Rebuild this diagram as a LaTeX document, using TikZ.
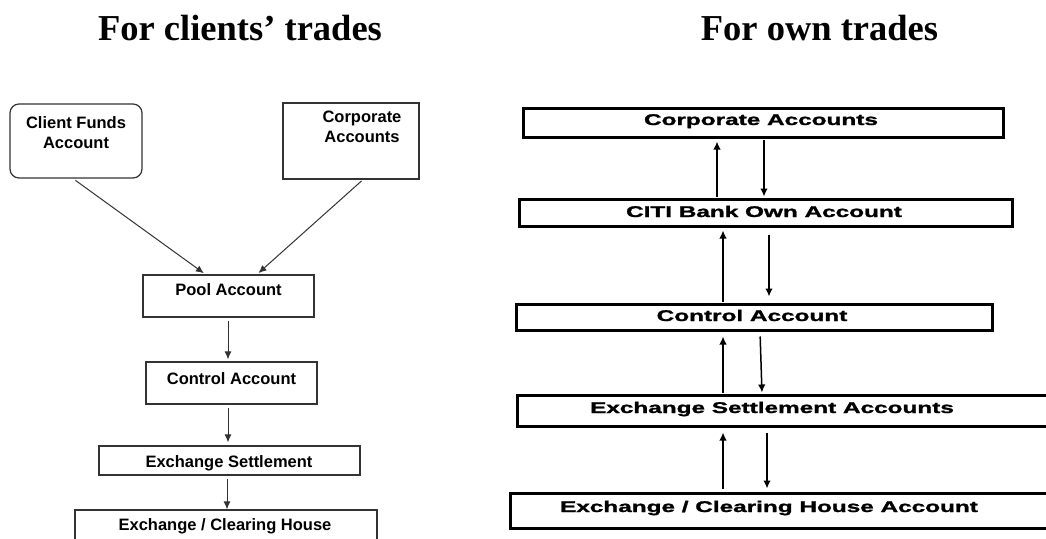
\documentclass[tikz,border=0pt]{standalone}
\usepackage{fontspec}
\usepackage{graphicx}
\setmainfont{Liberation Serif}
\newfontfamily\arialf{Liberation Sans}
\newfontfamily\arialh{Liberation Sans}[BoldFeatures={FakeBold=1.2}]
\usetikzlibrary{arrows.meta}
\definecolor{lgray}{HTML}{333333}
\newcommand{\wide}[1]{\scalebox{1.57}[1]{#1}}
\tikzset{
  x=1pt, y=-1pt,
  title/.style={font=\fontsize{36.5}{40}\selectfont\bfseries, inner sep=0pt, anchor=base},
  lbox/.style={draw=lgray, line width=1.2pt, inner sep=0pt},
  rbox/.style={draw=black, line width=3pt, inner sep=0pt},
  ltext/.style={font=\arialf\bfseries\fontsize{16.5}{20}\selectfont, inner sep=0pt, align=center},
  rtext/.style={font=\arialh\bfseries\fontsize{15.5}{18}\selectfont, inner sep=0pt, anchor=base},
  larr/.style={draw=lgray, line width=1pt, -{Latex[length=8pt,width=7pt]}},
  rarr/.style={draw=black, line width=1.5pt, -{Latex[length=8pt,width=7.5pt]}}
}
\begin{document}
\begin{tikzpicture}
\clip (0,0) rectangle (1046,538);
\fill[white] (0,0) rectangle (1046,538);

% titles
\node[title] (t1) at (240,40) {For clients’ trades};
\node[title] (t2) at (819.5,40) {For own trades};

% left boxes
\node[lbox, rounded corners=9pt, minimum width=132pt, minimum height=74pt] (cfa) at (76,141) {};
\node[lbox, minimum width=136pt, minimum height=76pt] (lcorp) at (351,141) {};
\node[lbox, minimum width=171pt, minimum height=42pt] (pool) at (228.5,296) {};
\node[lbox, minimum width=171pt, minimum height=42pt] (lctrl) at (231.5,383) {};
\node[lbox, minimum width=261pt, minimum height=29pt] (lesa) at (229.5,460.5) {};
\node[lbox, minimum width=302pt, minimum height=38pt] (lech) at (226,529) {};

% left texts
\node[ltext] (cfat) at (76,133) {Client Funds\\Account};
\node[ltext] (lcorpt) at (362,126.5) {Corporate\\Accounts};
\node[ltext, anchor=base] (poolt) at (228.5,295) {Pool Account};
\node[ltext, anchor=base] (lctrlt) at (231.5,384) {Control Account};
\node[ltext, anchor=base] (lesat) at (229,467) {Exchange Settlement};
\node[ltext, anchor=base] (lecht) at (225,530) {Exchange / Clearing House};

% left arrows
\draw[larr, shorten <=3pt, shorten >=2pt] ([xshift=-3pt]cfa.south) -- ([xshift=-23pt]pool.north);
\draw[larr, shorten <=2pt, shorten >=2pt] ([xshift=12pt]lcorp.south) -- ([xshift=28.5pt]pool.north);
\draw[larr, shorten <=3pt, shorten >=2pt] ([xshift=-0.5pt]pool.south) -- ([xshift=-3.5pt]lctrl.north);
\draw[larr, shorten <=3pt, shorten >=3pt] ([xshift=-3.5pt]lctrl.south) -- ([xshift=-1.5pt]lesa.north);
\draw[larr, shorten <=3pt, shorten >=0pt] ([xshift=-2.5pt]lesa.south) -- ([xshift=1pt]lech.north);

% right boxes
\node[rbox, minimum width=480pt, minimum height=29pt] (rcorp) at (763,122.5) {};
\node[rbox, minimum width=493pt, minimum height=27pt] (citi) at (765.5,212.5) {};
\node[rbox, minimum width=476pt, minimum height=26pt] (rctrl) at (754,317) {};
\node[rbox, minimum width=543pt, minimum height=31pt] (resa) at (788.5,410.5) {};
\node[rbox, minimum width=550pt, minimum height=35pt] (rech) at (785,510.5) {};

% right texts
\node[rtext] (rcorpt) at (761,125) {\wide{Corporate Accounts}};
\node[rtext] (citit) at (764,217) {\wide{CITI Bank Own Account}};
\node[rtext] (rctrlt) at (752,321) {\wide{Control Account}};
\node[rtext] (resat) at (772,413) {\wide{Exchange Settlement Accounts}};
\node[rtext] (recht) at (769,512) {\wide{Exchange / Clearing House Account}};

% right arrows
\draw[rarr, shorten <=1pt, shorten >=3pt] ([xshift=-48.5pt]citi.north) -- ([xshift=-46pt]rcorp.south);
\draw[rarr, shorten <=1pt, shorten >=1pt] ([xshift=1pt]rcorp.south) -- ([xshift=-1.5pt]citi.north);
\draw[rarr, shorten <=1pt, shorten >=3pt] ([xshift=-31pt]rctrl.north) -- ([xshift=-42.5pt]citi.south);
\draw[rarr, shorten <=7pt, shorten >=6pt] ([xshift=3.5pt]citi.south) -- ([xshift=15pt]rctrl.north);
\draw[rarr, shorten <=1pt, shorten >=5pt] ([xshift=-65.5pt]resa.north) -- ([xshift=-31pt]rctrl.south);
\draw[rarr, shorten <=5pt, shorten >=1pt] ([xshift=6pt]rctrl.south) -- ([xshift=-26.5pt]resa.north);
\draw[rarr, shorten <=3pt, shorten >=5pt] ([xshift=-62pt]rech.north) -- ([xshift=-65.5pt]resa.south);
\draw[rarr, shorten <=5pt, shorten >=3pt] ([xshift=-21.5pt]resa.south) -- ([xshift=-18pt]rech.north);
\end{tikzpicture}
\end{document}
